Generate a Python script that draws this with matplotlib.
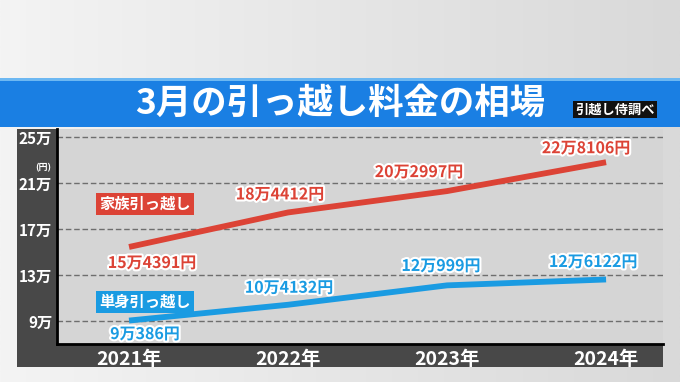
import numpy as np
import matplotlib
matplotlib.use('Agg')
import matplotlib.pyplot as plt
import matplotlib.patheffects as pe
from matplotlib.patches import Rectangle
from matplotlib.colors import LinearSegmentedColormap

plt.rcParams['font.family'] = ['Noto Sans CJK JP', 'DejaVu Sans']

# values in 万円
years = ['2021年', '2022年', '2023年', '2024年']
family = [15.4391, 18.4412, 20.2997, 22.8106]
single = [9.0386, 10.4132, 12.0999, 12.6122]
family_labels = ['15万4391円', '18万4412円', '20万2997円', '22万8106円']
single_labels = ['9万386円', '10万4132円', '12万999円', '12万6122円']
yticks = [9, 13, 17, 21, 25]
ytick_labels = ['9万', '13万', '17万', '21万', '25万']

RED = '#dc4336'
BLUE = '#1a9be2'
W, H = 680, 382

fig = plt.figure(figsize=(6.8, 3.82), dpi=100)

# background / decoration in pixel coords
bg = fig.add_axes([0, 0, 1, 1])
grad = np.linspace(0, 1, 256).reshape(1, -1)
cm = LinearSegmentedColormap.from_list('bgc', ['#f4f4f4', '#e6e6e6', '#d9d9d9'])
bg.imshow(grad, extent=(0, W, H, 0), cmap=cm, aspect='auto')
bg.set_xlim(0, W)
bg.set_ylim(H, 0)
bg.axis('off')

bg.add_patch(Rectangle((0, 77.5), W, 3, color='#6db8f2', lw=0))
bg.add_patch(Rectangle((0, 80.5), W, 46.5, color='#1a7fe3', lw=0))
bg.text(340, 103, '3月の引っ越し料金の相場', ha='center', va='center',
        fontsize=25.5, fontweight='bold', color='white')
bg.text(615, 109.5, '引越し侍調べ', ha='center', va='center', fontsize=9.5,
        fontweight='bold', color='white',
        bbox=dict(boxstyle='square,pad=0.15', fc='#111111', ec='none'))

bg.add_patch(Rectangle((17, 129), 646, 238, color='#484848', lw=0))
bg.text(43, 168, '(円)', ha='center', va='center', fontsize=6.5,
        fontweight='bold', color='white')

# chart
ax = fig.add_axes([57 / W, 1 - 344 / H, (663 - 57) / W, (344 - 129) / H])
ax.set_facecolor('#d5d5d5')
x = np.arange(len(years))
ax.set_xlim(-0.453, 3.358)
ax.set_ylim(7.0, 25.7)

for v in yticks:
    ax.axhline(v, color='#6e6e6e', lw=1, ls=(0, (4, 2)), zorder=1)

ax.plot(x, family, color=RED, lw=4.2, solid_capstyle='butt', zorder=3)
ax.plot(x, single, color=BLUE, lw=4.2, solid_capstyle='butt', zorder=3)

stroke = [pe.withStroke(linewidth=3, foreground='white')]
fam_off = [(23, -16), (-8, 18), (-28, 19), (-20, 14)]
sin_off = [(16, -13.5), (1, 17), (-6, 19.4), (-13, 17.5)]
for xi, v, lab, off in zip(x, family, family_labels, fam_off):
    ax.annotate(lab, (xi, v), xytext=off, textcoords='offset pixels',
                ha='center', va='center', fontsize=11.5, fontweight='bold',
                color=RED, path_effects=stroke, zorder=4)
for xi, v, lab, off in zip(x, single, single_labels, sin_off):
    ax.annotate(lab, (xi, v), xytext=off, textcoords='offset pixels',
                ha='center', va='center', fontsize=11.5, fontweight='bold',
                color=BLUE, path_effects=stroke, zorder=4)

ax.text(145, 204, '家族引っ越し', transform=bg.transData, ha='center', va='center',
        fontsize=11, fontweight='bold', color='white', zorder=5,
        bbox=dict(boxstyle='square,pad=0.2', fc=RED, ec='none'))
ax.text(145, 302, '単身引っ越し', transform=bg.transData, ha='center', va='center',
        fontsize=11, fontweight='bold', color='white', zorder=5,
        bbox=dict(boxstyle='square,pad=0.2', fc=BLUE, ec='none'))

ax.set_xticks(x)
ax.set_xticklabels(years, fontsize=14, fontweight='bold', color='white')
ax.set_yticks(yticks)
ax.set_yticklabels(ytick_labels, fontsize=11, fontweight='bold', color='white')
ax.tick_params(axis='both', length=0)
ax.tick_params(axis='x', pad=4)
ax.tick_params(axis='y', pad=3.5)

for s in ['top', 'right']:
    ax.spines[s].set_visible(False)
for s in ['left', 'bottom']:
    ax.spines[s].set_color('black')
    ax.spines[s].set_linewidth(2)

fig.savefig('out.png', dpi=100)
